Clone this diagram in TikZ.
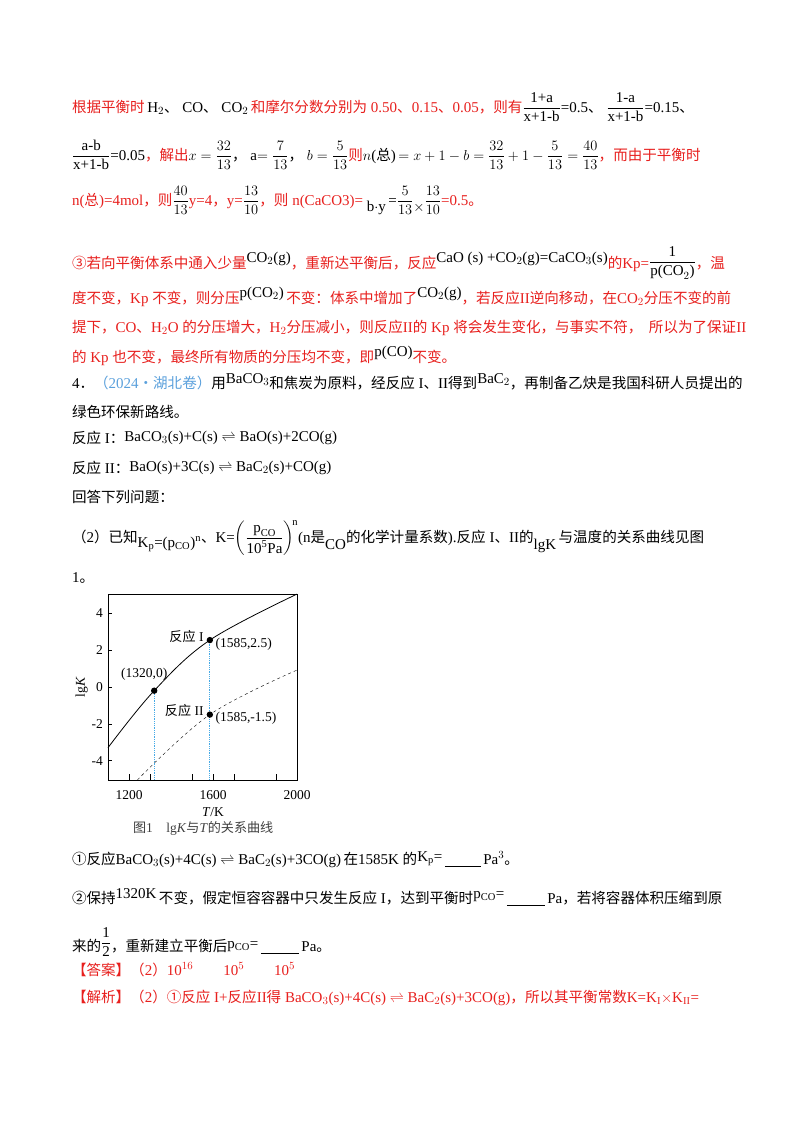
\documentclass[tikz,border=0pt]{standalone}
\usepackage{amsmath}
\usepackage{fontspec}
\setmainfont{Liberation Serif}
\newfontfamily\cjk{Noto Sans CJK SC}[Scale=0.97]
\newcommand\Z[1]{{\cjk #1}}
\definecolor{ans}{RGB}{232,32,30}
\definecolor{qblue}{RGB}{90,160,220}
\definecolor{dotblue}{RGB}{70,170,230}
\begin{document}
\begin{tikzpicture}[x=1pt,y=-1pt,
  every node/.style={inner sep=0pt,outer sep=0pt},
  txt/.style={anchor=base west,font=\fontsize{15}{18}\selectfont},
  red/.style={txt,text=ans},
  tick/.style={font=\fontsize{13.5}{15}\selectfont}]
\useasboundingbox[fill=white] (0,0) rectangle (800,1132);
% ---- red paragraph
\node[txt] (l1) at (72,112) {\color{ans}\Z{根据平衡时}\color{black}\,H$_2$\Z{、} CO\Z{、} CO$_2$\,\color{ans}\Z{和摩尔分数分别为} 0.50\Z{、}0.15\Z{、}0.05\Z{，则有}\color{black}$\dfrac{\text{1+a}}{\text{x+1-b}}$=0.5\Z{、} $\dfrac{\text{1-a}}{\text{x+1-b}}$=0.15\Z{、}};
\node[txt] (l2) at (72,160) {$\dfrac{\text{a-b}}{\text{x+1-b}}$=0.05\color{ans}\Z{，解出}\color{black} $x=\dfrac{32}{13}$\Z{，} a$=\dfrac{7}{13}$\Z{，} $b=\dfrac{5}{13}$\color{ans}\Z{则}\color{black}$n$(\Z{总})$\,=x+1-b=\dfrac{32}{13}+1-\dfrac{5}{13}=\dfrac{40}{13}$\color{ans}\Z{，而由于平衡时}};
\node[red] (l3) at (72,205) {n(\Z{总})=4mol\Z{，则}\color{black}$\dfrac{40}{13}$\color{ans}y=4\Z{，}y=\color{black}$\dfrac{13}{10}$\color{ans}\Z{，则} n(CaCO3)= \color{black}\raisebox{-6pt}{b$\cdot$y}\,=$\dfrac{5}{13}\raisebox{-6pt}{$\times$}\dfrac{13}{10}$\color{ans}=0.5\Z{。}};
\node[red] (l4) at (72,268) {\Z{③若向平衡体系中通入少量}\color{black}\raisebox{6pt}{CO$_2$(g)}\color{ans}\Z{，重新达平衡后，反应}\color{black}\raisebox{6pt}{CaO (s) +CO$_2$(g)=CaCO$_3$(s)}\color{ans}\Z{的}Kp=\color{black}\raisebox{2pt}{$\dfrac{\text{1}}{\text{p(CO}_2\text{)}}$}\color{ans}\Z{，温}};
\node[red] (l5) at (72,303) {\Z{度不变，}Kp \Z{不变，则分压}\color{black}\raisebox{6pt}{p(CO$_2$)}\,\color{ans}\Z{不变：体系中增加了}\color{black}\raisebox{6pt}{CO$_2$(g)}\color{ans}\Z{，若反应}II\Z{逆向移动，在}CO$_2$\Z{分压不变的前}};
\node[red] (l6) at (72,332) {\Z{提下，}CO\Z{、}H$_2$O \Z{的分压增大，}H$_2$\Z{分压减小，则反应}II\Z{的} Kp \Z{将会发生变化，与事实不符，\ \ 所以为了保证}II};
\node[red] (l7) at (72,362) {\Z{的} Kp \Z{也不变，最终所有物质的分压均不变，即}\color{black}\raisebox{6pt}{p(CO)}\color{ans}\Z{不变。}};
% ---- question
\node[txt] (q1) at (72,388) {4\Z{．}\color{qblue}\Z{（}2024\Z{·湖北卷）}\color{black}\Z{用}\raisebox{5pt}{BaCO$_3$}\Z{和焦炭为原料，经反应} I\Z{、}II\Z{得到}\raisebox{5pt}{BaC$_2$}\Z{，再制备乙炔是我国科研人员提出的}};
\node[txt] (q2) at (72,417) {\Z{绿色环保新路线。}};
\node[txt] (q3) at (72,443) {\Z{反应} I\Z{：}\raisebox{2pt}{BaCO$_3$(s)+C(s) $\rightleftharpoons$ BaO(s)+2CO(g)}};
\node[txt] (q4) at (72,473) {\Z{反应} II\Z{：}\raisebox{2pt}{BaO(s)+3C(s) $\rightleftharpoons$ BaC$_2$(s)+CO(g)}};
\node[txt] (q5) at (72,502) {\Z{回答下列问题：}};
\node[txt] (q6) at (72,542) {\Z{（}2\Z{）已知}\raisebox{-5pt}{K$_\text{p}$=(p$_\text{CO}$)$^\text{n}$}\Z{、}K=$\left(\dfrac{\text{p}_\text{CO}}{\text{10}^\text{5}\text{Pa}}\right)^{\!\text{n}}$(n\Z{是}\raisebox{-7pt}{CO}\Z{的化学计量系数}).\Z{反应} I\Z{、}II\Z{的}\raisebox{-7pt}{lgK}\,\Z{与温度的关系曲线见图}};
\node[txt] (q7) at (72,582) {1\Z{。}};
% ---- graph
\begin{scope}[shift={(129,687)},x=0.21pt,y=18.4pt]
  \draw[thin] (-100,-5.05) rectangle (800,5.05);
  \foreach \t in {100,300,500,700} \draw[thin] (\t,-5.05) -- ++(0,0.3);
  \foreach \t in {0,400,800} \draw[thin] (\t,-5.05) -- ++(0,0.3);
  \foreach \v in {-4,-2,0,2,4} {\draw[thin] (-100,\v) -- ++(18,0); \node[tick,anchor=east] (yl\v) at (-125,\v) {\v};}
  \node[tick,anchor=north] (x1) at (0,-5.6) {1200};
  \node[tick,anchor=north] (x2) at (400,-5.6) {1600};
  \node[tick,anchor=north] (x3) at (800,-5.6) {2000};
  \node[tick,anchor=north] (xt) at (400,-6.55) {\textit{T}/K};
  \node[tick,rotate=90] (yt) at (-225,0) {lg\textit{K}};
  \draw[thick] plot[smooth,tension=0.6] coordinates {(-100,-3.3) (120,-0.2) (385,2.55) (800,5.05)};
  \draw[dashed,thin] plot[smooth,tension=0.6] coordinates {(40,-5.05) (385,-1.5) (800,0.92)};
  \draw[dotblue,densely dotted,thick] (120,-0.2) -- (120,-5.05);
  \draw[dotblue,densely dotted,thick] (385,2.55) -- (385,-5.05);
  \fill (120,-0.2) circle (3.2pt) node[tick,anchor=south,yshift=10pt,xshift=-10pt] (p1) {(1320,0)};
  \fill (385,2.55) circle (3.2pt);
  \fill (385,-1.5) circle (3.2pt);
  \node[tick,anchor=west] (p2) at (412,2.35) {(1585,2.5)};
  \node[tick,anchor=west] (p3) at (412,-1.7) {(1585,-1.5)};
  \node[tick,anchor=east] (r1) at (355,2.75) {\Z{反应} I};
  \node[tick,anchor=east] (r2) at (355,-1.3) {\Z{反应} II};
\end{scope}
\node[tick,anchor=base west,text=black!75] (cap) at (133,832) {\Z{图}1\quad lg\textit{K}\Z{与}\textit{T}\Z{的关系曲线}};
% ---- sub-questions
\node[txt] (s1) at (72,864) {\Z{①反应}BaCO$_3$(s)+4C(s) $\rightleftharpoons$ BaC$_2$(s)+3CO(g)\,\Z{在}1585K \Z{的}\raisebox{3pt}{K$_\text{p}$=}\,\underline{\hspace{36pt}}\,Pa$^3$\Z{。}};
\node[txt] (s2) at (72,903) {\Z{②保持}\raisebox{5pt}{1320K}\,\Z{不变，假定恒容容器中只发生反应} I\Z{，达到平衡时}\raisebox{5pt}{p$_\text{CO}$=}\,\underline{\hspace{38pt}}\,Pa\Z{，若将容器体积压缩到原}};
\node[txt] (s3) at (72,951) {\Z{来的}\raisebox{4pt}{$\dfrac{\text{1}}{\text{2}}$}\Z{，重新建立平衡后}\raisebox{3pt}{p$_\text{CO}$=}\,\underline{\hspace{38pt}}\,Pa\Z{。}};
\node[red] (a1) at (72,975) {\Z{【答案】（}2\Z{）}10$^{16}$\hspace{30pt}10$^5$\hspace{30pt}10$^5$};
\node[red] (a2) at (72,1002) {\Z{【解析】（}2\Z{）①反应} I+\Z{反应}II\Z{得} BaCO$_3$(s)+4C(s) $\rightleftharpoons$ BaC$_2$(s)+3CO(g)\Z{，所以其平衡常数}K=K$_\text{I}$$\times$K$_\text{II}$=};
\end{tikzpicture}
\end{document}
